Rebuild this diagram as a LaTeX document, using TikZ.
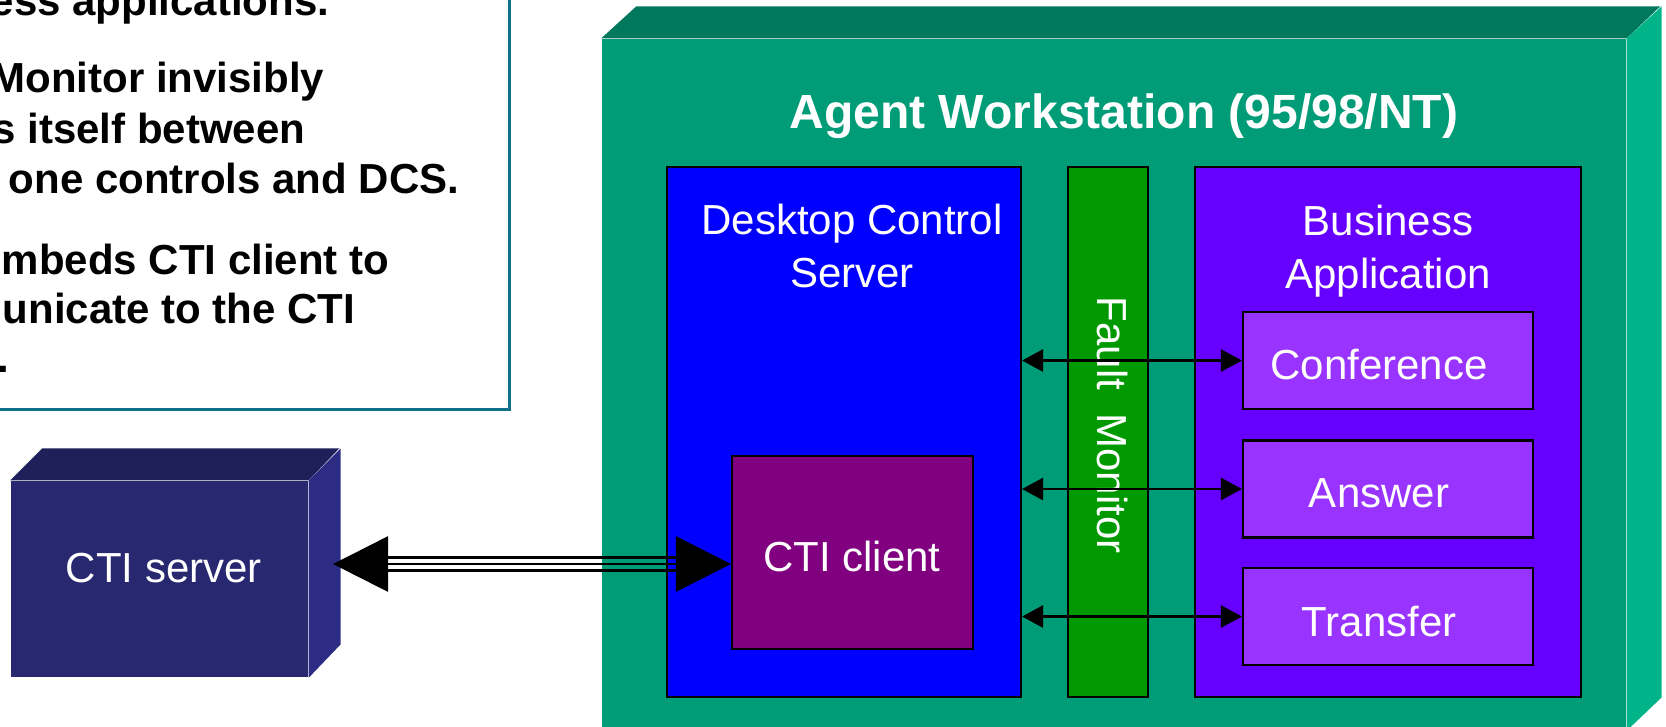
\documentclass[tikz,border=0pt]{standalone}
\usepackage{fontspec}
\setmainfont{Liberation Sans}
\usetikzlibrary{arrows.meta}

\definecolor{notebd}{RGB}{16,112,140}
\definecolor{srvfront}{RGB}{40,40,112}
\definecolor{srvtop}{RGB}{31,31,90}
\definecolor{srvside}{RGB}{44,44,133}
\definecolor{wsfront}{RGB}{0,155,119}
\definecolor{wstop}{RGB}{0,120,91}
\definecolor{wsside}{RGB}{0,179,137}
\definecolor{dcsblue}{RGB}{0,0,255}
\definecolor{fmgreen}{RGB}{0,153,0}
\definecolor{bizviolet}{RGB}{102,0,255}
\definecolor{btnviolet}{RGB}{153,51,255}
\definecolor{cliplum}{RGB}{128,0,128}

\newcommand{\boxfont}{\fontsize{11.95}{15.1}\selectfont}
\newcommand{\notefont}{\fontsize{11.95}{14.3}\selectfont\bfseries}
\newcommand{\headfont}{\fontsize{13.66}{16.4}\selectfont\bfseries}

\tikzset{
  pane/.style={draw=black, line width=0.6pt, inner sep=0pt},
  boxlabel/.style={text=white, font=\boxfont, inner sep=0pt, align=center},
  noteline/.style={font=\notefont, inner sep=0pt, anchor=base east},
  tipsmall/.style={{Triangle[length=0.21cm,width=0.22cm]}-{Triangle[length=0.21cm,width=0.22cm]}, line width=0.027cm},
  tipbig/.style={{Triangle[length=0.55cm,width=0.55cm]}-{Triangle[length=0.55cm,width=0.55cm]}, line width=0.027cm},
  rail/.style={line width=0.027cm, shorten <=0.54cm, shorten >=0.54cm},
}

\begin{document}
\begin{tikzpicture}[x=1cm, y=-1cm]
    \useasboundingbox (0,0) rectangle (16.66,7.26);

    \draw[notebd, line width=0.033cm, fill=white] (-0.5,-0.5) rectangle (5.095,4.095);
    \node[noteline] (n1) at (3.30,0.15) {ess applications.};
    \node[noteline] (n2) at (3.25,0.92) {Monitor invisibly};
    \node[noteline] (n3) at (3.06,1.43) {s itself between};
    \node[noteline] (n4) at (4.60,1.93) {one controls and DCS.};
    \node[noteline] (n5) at (3.90,2.74) {mbeds CTI client to};
    \node[noteline] (n6) at (3.56,3.23) {unicate to the CTI};
    \node[noteline] (n7) at (0.10,3.72) {.};

    % CTI server cube
    \node[fill=srvfront, minimum width=2.97cm, minimum height=1.96cm, inner sep=0pt] (srv) at (1.595,5.79) {};
    \fill[srvtop] (srv.north west) -- ++(0.32,-0.32) -- ++(2.97,0) -- (srv.north east) -- cycle;
    \fill[srvside] (srv.north east) -- ++(0.32,-0.32) -- ++(0,1.96) -- (srv.south east) -- cycle;
    \node[boxlabel] (srvlbl) at (1.64,5.68) {CTI server};

    % agent workstation
    \node[fill=wsfront, minimum width=10.24cm, minimum height=6.91cm, inner sep=0pt] (ws) at (11.14,3.845) {};
    \fill[wstop] (ws.north west) -- ++(0.35,-0.32) -- ++(10.24,0) -- (ws.north east) -- cycle;
    \fill[wsside] (ws.north east) -- ++(0.35,-0.32) -- ++(0,6.91) -- (ws.south east) -- cycle;
    \node[boxlabel, font=\headfont, anchor=base] (wslbl) at (11.24,1.28) {Agent Workstation (95/98/NT)};

    \node[pane, fill=dcsblue, minimum width=3.54cm, minimum height=5.30cm] (dcs) at (8.44,4.32) {};
    \node[boxlabel] (dcslbl) at (8.52,2.46) {Desktop Control\\Server};
    \node[pane, fill=fmgreen, minimum width=0.80cm, minimum height=5.30cm] (fm) at (11.08,4.32) {};
    \node[boxlabel, rotate=-90] (fmlbl) at (11.12,4.25) {Fault~ Monitor};
    \node[pane, fill=bizviolet, minimum width=3.86cm, minimum height=5.30cm] (biz) at (13.88,4.32) {};
    \node[boxlabel] (bizlbl) at (13.88,2.515) {Business\\Application};

    \node[pane, fill=btnviolet, minimum width=2.90cm, minimum height=0.97cm] (conf) at (13.88,3.605) {};
    \node[pane, fill=btnviolet, minimum width=2.90cm, minimum height=0.97cm] (ans) at (13.88,4.89) {};
    \node[pane, fill=btnviolet, minimum width=2.90cm, minimum height=0.97cm] (xfer) at (13.88,6.165) {};
    \node[boxlabel] (conflbl) at (13.79,3.645) {Conference};
    \node[boxlabel] (anslbl) at (13.79,4.93) {Answer};
    \node[boxlabel] (xferlbl) at (13.79,6.21) {Transfer};

    \node[pane, fill=cliplum, minimum width=2.41cm, minimum height=1.93cm] (cli) at (8.525,5.525) {};
    \node[boxlabel] (clilbl) at (8.52,5.565) {CTI client};

    \draw[tipsmall] (conf.west -| dcs.east) -- (conf.west);
    \draw[tipsmall] (ans.west -| dcs.east) -- (ans.west);
    \draw[tipsmall] (xfer.west -| dcs.east) -- (xfer.west);

    \coordinate (srvport) at (3.33,5.64);
    \draw[tipbig] (srvport) -- (cli.west |- srvport);
    \draw[rail, transform canvas={yshift=0.065cm}] (srvport) -- (cli.west |- srvport);
    \draw[rail, transform canvas={yshift=-0.065cm}] (srvport) -- (cli.west |- srvport);
\end{tikzpicture}
\end{document}
